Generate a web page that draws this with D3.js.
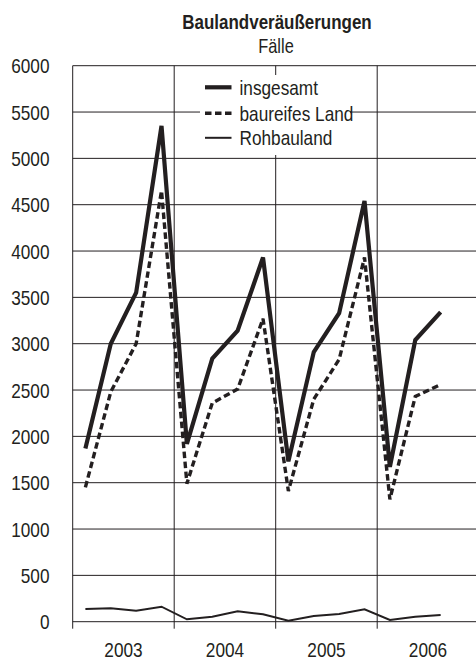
<!DOCTYPE html>
<html>
<head>
<meta charset="utf-8">
<script src="https://cdn.jsdelivr.net/npm/d3@7"></script>
<style>
  body { margin: 0; background: #fff; }
  svg text { font-family: "Liberation Sans", Arial, sans-serif; fill: #231f20; }
</style>
</head>
<body>
<svg id="chart"></svg>
<script>
// quarterly values 2003 Q1 .. 2006 Q3
let years = ["2003", "2004", "2005", "2006"];
let yTicks = [0, 500, 1000, 1500, 2000, 2500, 3000, 3500, 4000, 4500, 5000, 5500, 6000];
let insgesamt = [1870, 3000, 3550, 5350, 1920, 2840, 3140, 3930, 1730, 2910, 3330, 4540, 1670, 3040, 3340];
let baureifes = [1450, 2480, 3000, 4650, 1490, 2360, 2510, 3270, 1410, 2400, 2830, 3930, 1320, 2430, 2560];
let rohbau = [137, 144, 119, 162, 26, 54, 112, 80, 11, 61, 83, 133, 18, 54, 72];
let seriesNames = ["insgesamt", "baureifes Land", "Rohbauland"];

// no condensed font installed, so squeeze Liberation Sans horizontally
function place(sel, fx, fy, sx) {
  sx = sx || 0.82;
  sel.attr("transform", (d, i) => "translate(" + fx(d, i) + "," + fy(d, i) + ") scale(" + sx + ",1)");
}

function chart() {
  let width = 476;
  let height = 661;
  let left = 72.7;
  let top = 65.7;
  let bottom = 621.7;
  let quarterW = 25.375;
  let ink = "#231f20";

  var svg = d3.select("#chart").attr("width", width).attr("height", height);

  var x = d3.scaleLinear().domain([0, 16]).range([left, left + 16 * quarterW]);
  var y = d3.scaleLinear().domain([0, 6000]).range([bottom, top]);

  // horizontal grid
  svg.append("g")
    .selectAll("line")
    .data(yTicks)
    .enter()
    .append("line")
    .attr("x1", left)
    .attr("x2", x(16))
    .attr("y1", d => y(d))
    .attr("y2", d => y(d))
    .attr("stroke", ink)
    .attr("stroke-width", 1);

  // vertical grid at year boundaries, with ticks under the axis
  svg.append("g")
    .selectAll("line")
    .data([0, 4, 8, 12])
    .enter()
    .append("line")
    .attr("x1", d => x(d))
    .attr("x2", d => x(d))
    .attr("y1", top)
    .attr("y2", bottom + 7)
    .attr("stroke", ink)
    .attr("stroke-width", 1);

  // y labels
  svg.append("g")
    .selectAll("text")
    .data(yTicks)
    .enter()
    .append("text")
    .text(d => d)
    .attr("text-anchor", "end")
    .attr("font-size", "21px")
    .call(place, () => 49.5, d => y(d) + 7.5);

  // year labels
  svg.append("g")
    .selectAll("text")
    .data(years)
    .enter()
    .append("text")
    .text(d => d)
    .attr("text-anchor", "middle")
    .attr("font-size", "21px")
    .call(place, (d, i) => x(i * 4 + 2), () => 657);

  // legend box hides the grid behind it
  svg.append("rect")
    .attr("x", 200)
    .attr("y", 75)
    .attr("width", 150)
    .attr("height", 80)
    .attr("fill", "#fff");

  var line = d3.line()
    .x((d, i) => x(i + 0.5))
    .y(d => y(d));

  let styles = [
    { data: insgesamt, w: 4.2, dash: null },
    { data: baureifes, w: 3.4, dash: "6.5,3.5" },
    { data: rohbau, w: 2, dash: null }
  ];

  svg.append("g")
    .selectAll("path")
    .data(styles)
    .enter()
    .append("path")
    .attr("d", d => line(d.data))
    .attr("fill", "none")
    .attr("stroke", ink)
    .attr("stroke-width", d => d.w)
    .attr("stroke-dasharray", d => d.dash)
    .attr("stroke-linejoin", "miter");

  // legend
  var leg = svg.append("g")
    .selectAll("g")
    .data(styles)
    .enter()
    .append("g")
    .attr("transform", (d, i) => "translate(0," + [87.3, 113.3, 137.8][i] + ")");

  leg.append("line")
    .attr("x1", 205)
    .attr("x2", 231.5)
    .attr("stroke", ink)
    .attr("stroke-width", d => d.w)
    .attr("stroke-dasharray", d => d.dash);

  leg.append("text")
    .text((d, i) => seriesNames[i])
    .attr("font-size", "21px")
    .call(place, () => 239.5, () => 7.5);

  // title
  svg.append("text")
    .datum(0)
    .text("Baulandveräußerungen")
    .attr("text-anchor", "middle")
    .attr("font-size", "19.5px")
    .attr("font-weight", "bold")
    .call(place, () => 277, () => 28.5, 0.87);

  svg.append("text")
    .datum(0)
    .text("Fälle")
    .attr("text-anchor", "middle")
    .attr("font-size", "20px")
    .call(place, () => 276, () => 53.3);
}

chart();
</script>
</body>
</html>
